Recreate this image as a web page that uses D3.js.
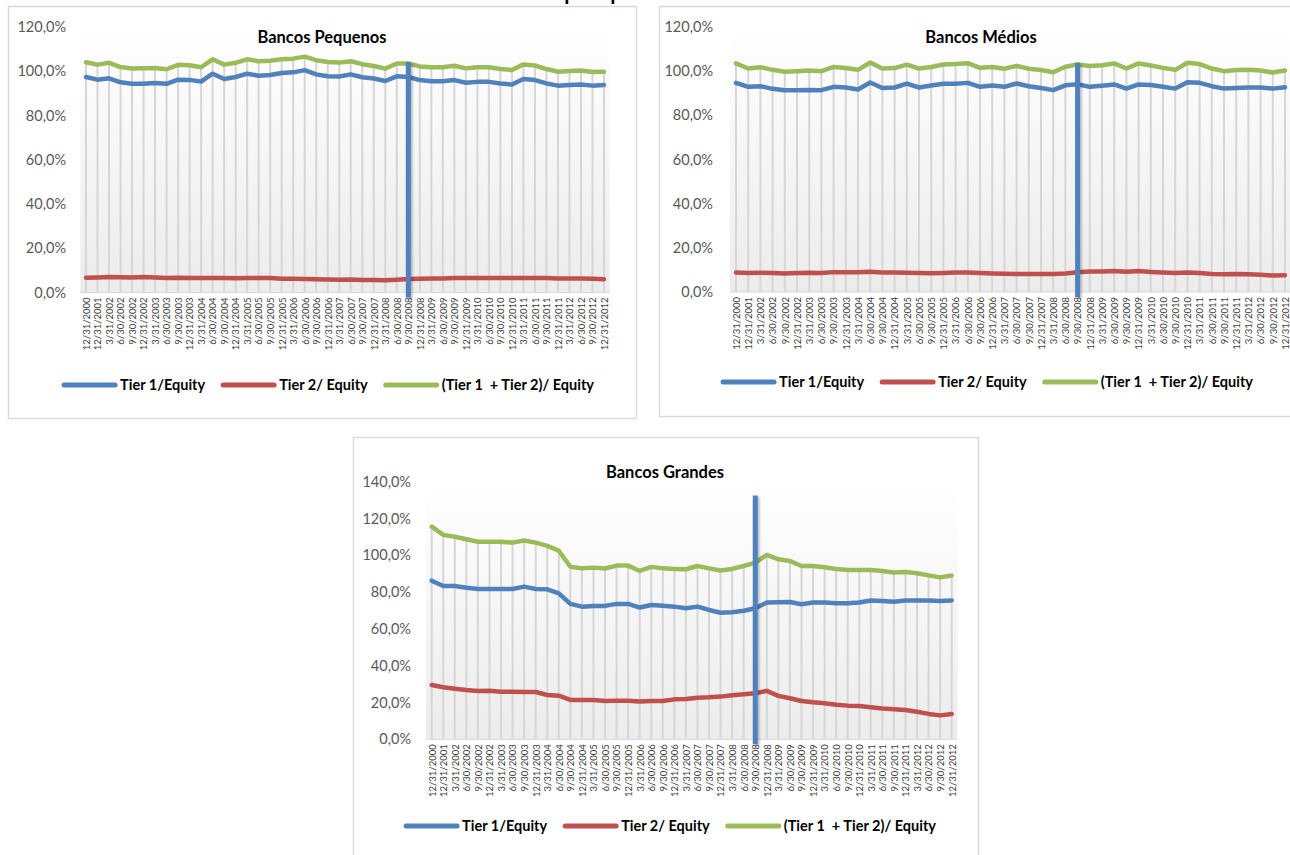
<!DOCTYPE html>
<html>
<head>
<meta charset="utf-8">
<script src="https://cdn.jsdelivr.net/npm/d3@7"></script>
<style>
  html, body { margin: 0; padding: 0; background: #fff; }
  svg { display: block; font-family: Lato, "Open Sans", sans-serif; }
</style>
</head>
<body>
<svg id="chart" width="1290" height="855"></svg>
<script>
// Quarterly reference dates
const dates = [
  "12/31/2000", "12/31/2001",
  "3/31/2002", "6/30/2002", "9/30/2002", "12/31/2002",
  "3/31/2003", "6/30/2003", "9/30/2003", "12/31/2003",
  "3/31/2004", "6/30/2004", "9/30/2004", "12/31/2004",
  "3/31/2005", "6/30/2005", "9/30/2005", "12/31/2005",
  "3/31/2006", "6/30/2006", "9/30/2006", "12/31/2006",
  "3/31/2007", "6/30/2007", "9/30/2007", "12/31/2007",
  "3/31/2008", "6/30/2008", "9/30/2008", "12/31/2008",
  "3/31/2009", "6/30/2009", "9/30/2009", "12/31/2009",
  "3/31/2010", "6/30/2010", "9/30/2010", "12/31/2010",
  "3/31/2011", "6/30/2011", "9/30/2011", "12/31/2011",
  "3/31/2012", "6/30/2012", "9/30/2012", "12/31/2012"
];

const seriesNames = ["Tier 1/Equity", "Tier 2/ Equity", "(Tier 1  + Tier 2)/ Equity"];
const seriesColors = ["#4f81bd", "#c0504d", "#9bbb59"];

const yTicks120 = [0, 20, 40, 60, 80, 100, 120];
const yTicks140 = [0, 20, 40, 60, 80, 100, 120, 140];

const crisisDate = "9/30/2008";

// Bancos Pequenos (%)
const pequenosTier1 = [97.4, 96.2, 96.8, 95.0, 94.4, 94.4, 94.7, 94.3, 96.2, 96.1,
  95.3, 98.9, 96.5, 97.4, 98.9, 98.0, 98.3, 99.2, 99.5, 100.5,
  98.6, 97.7, 97.6, 98.6, 97.3, 96.7, 95.6, 97.7, 97.4, 96.0,
  95.5, 95.5, 96.0, 94.8, 95.2, 95.2, 94.5, 94.0, 96.5, 96.0,
  94.5, 93.5, 93.8, 94.0, 93.5, 93.8];
const pequenosTier2 = [6.7, 6.8, 7.0, 6.9, 6.8, 7.0, 6.8, 6.6, 6.7, 6.6,
  6.5, 6.5, 6.5, 6.4, 6.5, 6.5, 6.5, 6.2, 6.2, 6.1,
  6.0, 5.9, 5.8, 5.9, 5.7, 5.7, 5.5, 5.8, 6.1, 6.2,
  6.3, 6.3, 6.5, 6.5, 6.6, 6.6, 6.5, 6.6, 6.6, 6.6,
  6.5, 6.3, 6.3, 6.3, 6.2, 6.0];
const pequenosTotal = [104.1, 103.0, 103.8, 101.9, 101.2, 101.4, 101.5, 100.9, 102.9, 102.7,
  101.8, 105.4, 103.0, 103.8, 105.4, 104.5, 104.8, 105.4, 105.7, 106.6,
  105.0, 104.2, 103.9, 104.5, 103.2, 102.4, 101.2, 103.5, 103.5, 102.2,
  101.8, 101.8, 102.5, 101.3, 101.8, 101.8, 101.0, 100.6, 103.1, 102.6,
  101.0, 99.8, 100.1, 100.3, 99.7, 99.8];

// Bancos Médios (%)
const mediosTier1 = [94.7, 92.9, 93.2, 92.0, 91.4, 91.4, 91.5, 91.4, 92.9, 92.6,
  91.7, 94.9, 92.4, 92.6, 94.4, 92.6, 93.5, 94.3, 94.3, 94.7,
  92.9, 93.5, 92.9, 94.4, 93.2, 92.4, 91.4, 93.6, 94.1, 92.9,
  93.4, 94.0, 92.1, 94.0, 93.7, 92.9, 92.1, 95.0, 94.7, 93.2,
  92.1, 92.4, 92.6, 92.6, 92.1, 92.7];
const mediosTier2 = [8.8, 8.6, 8.7, 8.6, 8.4, 8.6, 8.7, 8.6, 9.0, 8.9,
  8.9, 9.2, 8.8, 8.8, 8.7, 8.6, 8.5, 8.6, 8.8, 8.8,
  8.6, 8.4, 8.3, 8.2, 8.1, 8.1, 8.1, 8.4, 8.9, 9.3,
  9.3, 9.5, 9.2, 9.5, 9.1, 8.8, 8.6, 8.8, 8.6, 8.2,
  8.0, 8.1, 8.0, 7.8, 7.5, 7.6];
const mediosTotal = [103.5, 101.2, 101.8, 100.6, 99.7, 100.0, 100.3, 100.0, 101.9, 101.4,
  100.6, 103.9, 101.2, 101.4, 103.0, 101.2, 101.9, 103.0, 103.2, 103.6,
  101.5, 101.9, 101.1, 102.4, 101.1, 100.5, 99.5, 102.0, 103.0, 102.3,
  102.7, 103.5, 101.2, 103.5, 102.6, 101.5, 100.6, 103.8, 103.2, 101.2,
  100.0, 100.5, 100.6, 100.3, 99.4, 100.3];

// Bancos Grandes (%)
const grandesTier1 = [86.2, 83.3, 83.3, 82.4, 81.7, 81.7, 81.7, 81.7, 83.0, 81.7,
  81.5, 79.3, 73.6, 72.1, 72.5, 72.5, 73.6, 73.6, 71.6, 73.0,
  72.6, 72.1, 71.2, 72.1, 70.3, 68.8, 69.0, 69.9, 71.2, 74.3,
  74.5, 74.6, 73.4, 74.3, 74.3, 73.9, 73.9, 74.3, 75.4, 75.2,
  74.8, 75.4, 75.4, 75.4, 75.2, 75.5];
const grandesTier2 = [29.5, 28.3, 27.5, 26.8, 26.3, 26.4, 25.9, 25.9, 25.7, 25.7,
  24.1, 23.7, 21.4, 21.4, 21.4, 20.8, 21.0, 21.0, 20.5, 20.8,
  20.8, 21.7, 21.9, 22.6, 22.8, 23.2, 23.9, 24.5, 25.0, 26.3,
  23.6, 22.3, 20.8, 20.1, 19.6, 18.8, 18.3, 18.1, 17.4, 16.7,
  16.3, 15.9, 15.0, 13.8, 13.0, 13.8];
const grandesTotal = [115.6, 111.1, 110.1, 108.7, 107.4, 107.4, 107.4, 106.9, 108.0, 106.9,
  105.1, 102.5, 93.8, 92.9, 93.3, 92.8, 94.4, 94.4, 91.5, 93.7,
  92.9, 92.6, 92.4, 94.2, 92.9, 91.7, 92.6, 94.2, 96.0, 100.2,
  97.8, 96.9, 94.2, 94.2, 93.5, 92.6, 92.0, 92.0, 92.0, 91.5,
  90.6, 90.9, 90.2, 89.1, 88.0, 89.0];

// Panel layout
const panels = [
  {
    title: "Bancos Pequenos",
    series: [pequenosTier1, pequenosTier2, pequenosTotal],
    ticks: yTicks120, yMax: 120,
    frame: { x: 8, y: 6, w: 628, h: 412 },
    xFirst: 86, xLast: 604, yBottom: 292.5, yTop: 27,
    labelRight: 66,
    titleX: 322, titleY: 43,
    legendX: 328, legendY: 385,
    markerTop: 104.2
  },
  {
    title: "Bancos Médios",
    series: [mediosTier1, mediosTier2, mediosTotal],
    ticks: yTicks120, yMax: 120,
    frame: { x: 659, y: 6, w: 640, h: 410 },
    xFirst: 736, xLast: 1285, yBottom: 292, yTop: 27,
    labelRight: 713,
    titleX: 981, titleY: 43,
    legendX: 987, legendY: 382,
    markerTop: 103.8
  },
  {
    title: "Bancos Grandes",
    series: [grandesTier1, grandesTier2, grandesTotal],
    ticks: yTicks140, yMax: 140,
    frame: { x: 353, y: 437, w: 625, h: 425 },
    xFirst: 431.7, xLast: 951.7, yBottom: 739.3, yTop: 481.7,
    labelRight: 411,
    titleX: 665, titleY: 478,
    legendX: 670, legendY: 826,
    markerTop: 132.5
  }
];

const svg = d3.select("#chart");
const defs = svg.append("defs");

const grad = defs.append("linearGradient")
  .attr("id", "plotFill").attr("x1", 0).attr("y1", 0).attr("x2", 0).attr("y2", 1);
grad.append("stop").attr("offset", "0%").attr("stop-color", "#ffffff");
grad.append("stop").attr("offset", "100%").attr("stop-color", "#ececec");

const shadow = defs.append("filter").attr("id", "markerShadow")
  .attr("x", "-100%").attr("y", "-5%").attr("width", "300%").attr("height", "115%");
shadow.append("feDropShadow").attr("dx", 1.5).attr("dy", 1.5)
  .attr("stdDeviation", 1.2).attr("flood-color", "#000").attr("flood-opacity", 0.3);

// Overall heading (sits above the top edge of the page)
svg.append("text")
  .attr("x", 666).attr("y", 0)
  .attr("text-anchor", "middle")
  .attr("font-weight", "bold").attr("font-size", 21).attr("fill", "#000")
  .text("Capital por classe de banco");

const fmt = d => d.toFixed(1).replace(".", ",") + "%";

panels.forEach(p => {
  const g = svg.append("g");

  g.append("rect")
    .attr("x", p.frame.x + 0.5).attr("y", p.frame.y + 0.5)
    .attr("width", p.frame.w).attr("height", p.frame.h)
    .attr("fill", "#fff").attr("stroke", "#d9d9d9").attr("stroke-width", 1.5);

  const x = d3.scalePoint().domain(dates).range([p.xFirst, p.xLast]);
  const y = d3.scaleLinear().domain([0, p.yMax]).range([p.yBottom, p.yTop]);
  const half = x.step() / 2;
  const left = p.xFirst - half, right = p.xLast + half;

  // plot area
  g.append("rect")
    .attr("x", left).attr("y", p.yTop)
    .attr("width", right - left).attr("height", p.yBottom - p.yTop)
    .attr("fill", "url(#plotFill)");

  // drop lines from the upper series down to the axis
  const top = p.series[2];
  g.append("g").selectAll("line").data(dates).join("line")
    .attr("x1", d => x(d)).attr("x2", d => x(d))
    .attr("y1", (d, i) => y(top[i])).attr("y2", y(0))
    .attr("stroke", "#d6d6d6").attr("stroke-width", 2);

  // category axis
  const xAxis = g.append("g")
    .attr("transform", `translate(0,${y(0)})`)
    .call(d3.axisBottom(x).tickSize(0).tickPadding(0));
  xAxis.select(".domain")
    .attr("d", `M${left},0H${right}`)
    .attr("stroke", "#d9d9d9").attr("stroke-width", 1);
  xAxis.selectAll("text")
    .attr("transform", "rotate(-90)")
    .attr("text-anchor", "end")
    .attr("x", -5).attr("y", 0).attr("dy", "0.35em")
    .attr("font-family", "Lato, sans-serif")
    .attr("font-size", 9.5).attr("fill", "#404040");

  // value axis
  const yAxis = g.append("g")
    .attr("transform", `translate(${left},0)`)
    .call(d3.axisLeft(y).tickValues(p.ticks).tickSize(0)
      .tickPadding(left - p.labelRight).tickFormat(fmt));
  yAxis.select(".domain").remove();
  yAxis.selectAll("text")
    .attr("font-family", "Lato, sans-serif")
    .attr("font-size", 14.5).attr("fill", "#595959");

  // series
  const line = d3.line()
    .x((d, i) => x(dates[i]))
    .y(d => y(d));
  p.series.forEach((vals, k) => {
    g.append("path")
      .datum(vals)
      .attr("d", line)
      .attr("fill", "none")
      .attr("stroke", seriesColors[k])
      .attr("stroke-width", 4.5)
      .attr("stroke-linejoin", "round")
      .attr("stroke-linecap", "round");
  });

  // crisis marker
  const mTop = y(p.markerTop), mBottom = y(0) + 5;
  g.append("rect")
    .attr("x", x(crisisDate) - 2.5).attr("y", mTop)
    .attr("width", 5).attr("height", mBottom - mTop)
    .attr("fill", "#4f81bd")
    .attr("filter", "url(#markerShadow)");

  // title
  g.append("text")
    .attr("x", p.titleX).attr("y", p.titleY)
    .attr("text-anchor", "middle")
    .attr("font-weight", "bold").attr("font-size", 16.5).attr("fill", "#000")
    .text(p.title);

  // legend
  const lg = g.append("g").attr("transform", `translate(0,${p.legendY})`);
  const items = seriesNames.map((name, k) => {
    const it = lg.append("g");
    it.append("line")
      .attr("x1", 2).attr("x2", 53).attr("y1", 0).attr("y2", 0)
      .attr("stroke", seriesColors[k]).attr("stroke-width", 5)
      .attr("stroke-linecap", "round");
    const t = it.append("text")
      .attr("x", 58).attr("y", 0).attr("dy", "0.35em")
      .attr("font-weight", "bold").attr("font-size", 14.5).attr("fill", "#000")
      .style("white-space", "pre")
      .text(name);
    return { it, w: 58 + t.node().getComputedTextLength() };
  });
  const gap = 16;
  const total = d3.sum(items, d => d.w) + gap * (items.length - 1);
  let cx = p.legendX - total / 2;
  items.forEach(d => {
    d.it.attr("transform", `translate(${cx},0)`);
    cx += d.w + gap;
  });
});
</script>
</body>
</html>
